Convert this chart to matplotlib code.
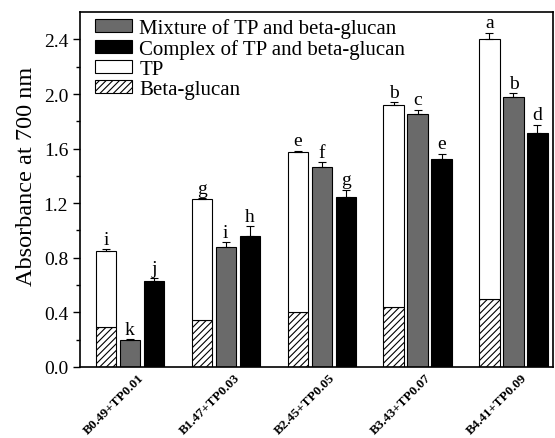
import numpy as np
import matplotlib.pyplot as plt
from matplotlib.patches import Patch

plt.rcParams['font.family'] = ['Liberation Serif', 'DejaVu Serif']
plt.rcParams['hatch.linewidth'] = 0.8
plt.rcParams['hatch.color'] = '#444444'

groups = ["B0.49+TP0.01", "B1.47+TP0.03", "B2.45+TP0.05", "B3.43+TP0.07", "B4.41+TP0.09"]
beta = [0.29, 0.345, 0.405, 0.44, 0.50]
tp_total = [0.852, 1.228, 1.575, 1.922, 2.40]
tp_err = [0.01, 0.01, 0.01, 0.02, 0.05]
mixture = [0.195, 0.882, 1.465, 1.855, 1.98]
mix_err = [0.01, 0.03, 0.037, 0.03, 0.025]
complex_ = [0.633, 0.962, 1.245, 1.525, 1.715]
cx_err = [0.015, 0.07, 0.055, 0.037, 0.06]
lab_tp = ["i", "g", "e", "b", "a"]
lab_mix = ["k", "i", "f", "c", "b"]
lab_cx = ["j", "h", "g", "e", "d"]

x = np.arange(len(groups))
w = 0.21
off = 0.25
zeros = [0] * len(groups)
ekw = dict(capsize=3, elinewidth=0.8, capthick=0.8)

fig = plt.figure(figsize=(5.55, 4.39), dpi=100)
ax = fig.add_axes([0.144, 0.162, 0.852, 0.808])

tp_only = np.array(tp_total) - np.array(beta)
ax.bar(x - off, beta, w, color='white', edgecolor='black', hatch='/////', lw=0.8)
ax.bar(x - off, tp_only, w, bottom=beta, color='white', edgecolor='black', lw=0.8,
       yerr=[zeros, tp_err], error_kw=ekw)
ax.bar(x, mixture, w, color='#6a6a6a', edgecolor='black', lw=0.8,
       yerr=[zeros, mix_err], error_kw=ekw)
ax.bar(x + off, complex_, w, color='black', edgecolor='black', lw=0.8,
       yerr=[zeros, cx_err], error_kw=ekw)

for xs, vals, errs, labs in [(x - off, tp_total, tp_err, lab_tp),
                             (x, mixture, mix_err, lab_mix),
                             (x + off, complex_, cx_err, lab_cx)]:
    for xi, v, e, l in zip(xs, vals, errs, labs):
        ax.text(xi, v + e + 0.01, l, ha='center', va='bottom', fontsize=14)

ax.set_xlim(-0.52, 4.41)
ax.set_ylim(0, 2.6)
ax.set_yticks(np.arange(0, 2.41, 0.4))
ax.set_yticks(np.arange(0, 2.6, 0.2), minor=True)
ax.set_yticklabels([f"{v:.1f}" for v in np.arange(0, 2.41, 0.4)], fontsize=14)
# labels sit a bit right of the group centre in the original
ax.set_xticks(x + 0.08)
ax.set_xticklabels(groups, rotation=45, ha='right', rotation_mode='anchor',
                   fontsize=9.5, fontweight='bold')
ax.tick_params(axis='x', length=0, pad=3)
ax.tick_params(axis='y', which='major', length=5, width=1)
ax.tick_params(axis='y', which='minor', length=3, width=1)
ax.set_ylabel("Absorbance at 700 nm", fontsize=17.5)
ax.yaxis.set_label_coords(-0.09, 0.54)
for s in ax.spines.values():
    s.set_linewidth(1.2)

handles = [Patch(facecolor='#6a6a6a', edgecolor='black', lw=0.8),
           Patch(facecolor='black', edgecolor='black', lw=0.8),
           Patch(facecolor='white', edgecolor='black', lw=0.8),
           Patch(facecolor='white', edgecolor='black', hatch='/////', lw=0.8)]
ax.legend(handles, ["Mixture of TP and beta-glucan", "Complex of TP and beta-glucan",
                    "TP", "Beta-glucan"],
          loc='upper left', bbox_to_anchor=(0.0, 1.025), frameon=False, fontsize=15,
          handlelength=1.8, handleheight=0.6, labelspacing=0.05, handletextpad=0.35,
          borderaxespad=0.3)

plt.savefig("out.png", dpi=100)
